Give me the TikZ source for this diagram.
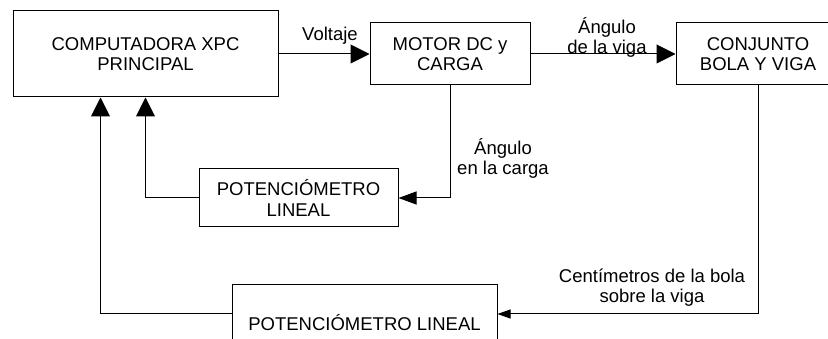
\documentclass[tikz,border=0pt]{standalone}
\usepackage{fontspec}
\setmainfont{Liberation Sans}
\usetikzlibrary{arrows.meta,calc}
\begin{document}
\begin{tikzpicture}[x=1pt,y=-1pt,
  blk/.style={draw,line width=1pt,inner sep=0pt,align=center,font=\fontsize{18.5}{20.5}\selectfont},
  lbl/.style={align=center,inner sep=0pt,font=\fontsize{18.5}{20}\selectfont},
  line/.style={line width=1pt},
  bigarr/.style={line,-{Triangle[length=19pt,width=19pt]}},
  midarr/.style={line,-{Triangle[length=18pt,width=13pt]}},
  smallarr/.style={line,-{Triangle[length=13pt,width=9pt]}}]
\useasboundingbox (0,0) rectangle (828,339);
\clip (0,0) rectangle (828,339);
\fill[white] (0,0) rectangle (828,339);
\node[blk,minimum width=265pt,minimum height=86pt] (comp) at (145.5,54) {COMPUTADORA XPC\\PRINCIPAL};
\node[blk,minimum width=160pt,minimum height=62pt] (motor) at (450,54) {MOTOR DC y\\CARGA};
\node[blk,minimum width=164pt,minimum height=62pt] (conj) at (758,54) {CONJUNTO\\BOLA Y VIGA};
\node[blk,minimum width=199pt,minimum height=58pt] (pot1) at (298.5,198) {POTENCIÓMETRO\\LINEAL};
\node[blk,minimum width=265pt,minimum height=76pt] (pot2) at (364.5,323) {POTENCIÓMETRO LINEAL};
\draw[bigarr] (comp.east) -- (motor.west);
\draw[bigarr] (motor.east) -- (conj.west);
\draw[midarr] (motor.south) |- (pot1.east);
\draw[bigarr] (pot1.west) -| (comp.south);
\draw[smallarr] (conj.south) |- ([yshift=9pt]pot2.east);
\draw[bigarr] ([yshift=9pt]pot2.west) -| ([xshift=-45pt]comp.south);
\node[lbl] (lv) at (330,36) {Voltaje};
\node[lbl] (la) at (607,37) {Ángulo\\de la viga};
\node[lbl] (lc) at (503,158) {Ángulo\\en la carga};
\node[lbl] (lb) at (652,288) {Centímetros de la bola\\sobre la viga};
\end{tikzpicture}
\end{document}
